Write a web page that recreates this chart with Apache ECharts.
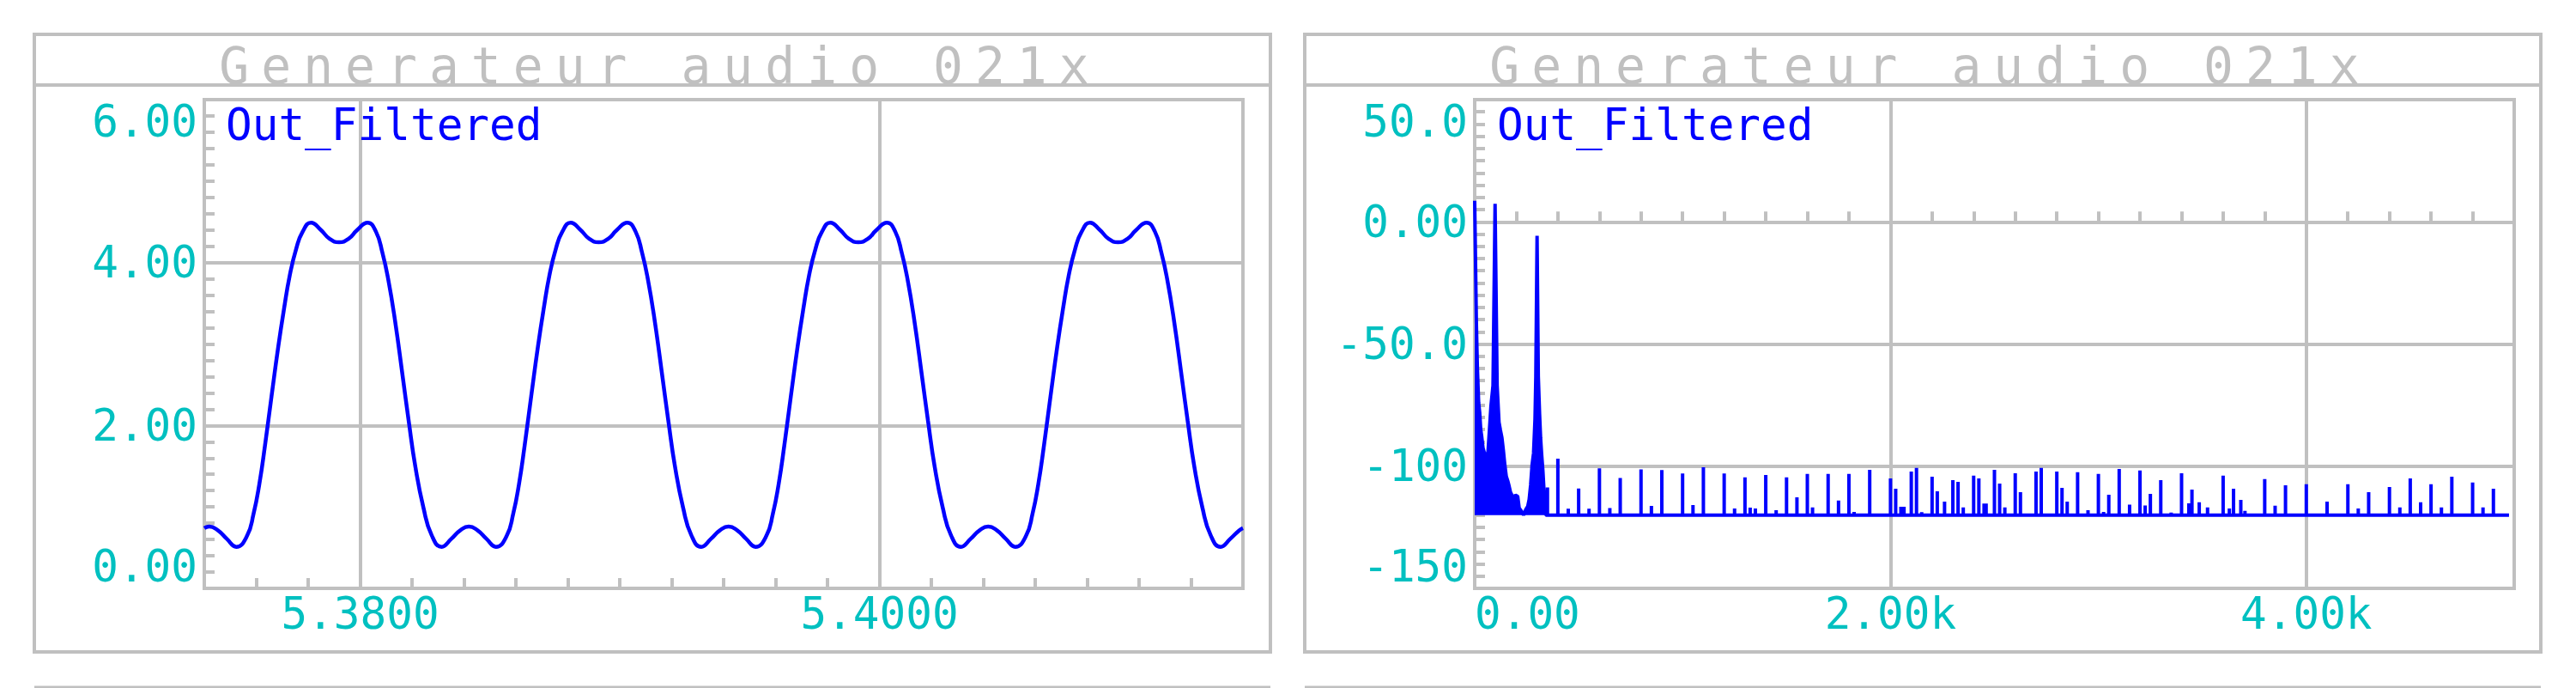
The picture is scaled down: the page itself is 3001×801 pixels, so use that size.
<!DOCTYPE html>
<html>
<head>
<meta charset="utf-8">
<title>Generateur audio 021x</title>
<script src="https://cdn.jsdelivr.net/npm/echarts@6/dist/echarts.min.js"></script>
<style>
  html, body { margin: 0; padding: 0; background: #fff; }
  #chart { width: 3001px; height: 801px; }
  /* titre PSpice : police large, on l'imite avec de l'espacement */
  #chart text[style*="58px"] { letter-spacing: 14px; }
</style>
</head>
<body>
<div id="chart"></div>
<script>
// Trace temporelle Out_Filtered (s, V), une ligne par periode
const timeS = [
  5.37400, 5.37419, 5.37453, 5.37486,
  5.37523, 5.37564, 5.37590, 5.37612, 5.37634, 5.37659, 5.37685, 5.37707, 5.37729, 5.37754, 5.37779, 5.37811,
  5.37849, 5.37883, 5.37919, 5.37955, 5.37989, 5.38029,
  5.38061, 5.38086, 5.38108, 5.38134, 5.38165, 5.38187, 5.38213, 5.38244, 5.38276, 5.38314,
  5.38352, 5.38385, 5.38419, 5.38453, 5.38486,
  5.38523, 5.38564, 5.38590, 5.38612, 5.38634, 5.38659, 5.38685, 5.38707, 5.38729, 5.38754, 5.38779, 5.38811,
  5.38849, 5.38883, 5.38919, 5.38955, 5.38989, 5.39029,
  5.39061, 5.39086, 5.39108, 5.39134, 5.39165, 5.39187, 5.39213, 5.39244, 5.39276, 5.39314,
  5.39352, 5.39385, 5.39419, 5.39453, 5.39486,
  5.39523, 5.39564, 5.39590, 5.39612, 5.39634, 5.39659, 5.39685, 5.39707, 5.39729, 5.39754, 5.39779, 5.39811,
  5.39849, 5.39883, 5.39919, 5.39955, 5.39989, 5.40029,
  5.40061, 5.40086, 5.40108, 5.40134, 5.40165, 5.40187, 5.40213, 5.40244, 5.40276, 5.40314,
  5.40352, 5.40385, 5.40419, 5.40453, 5.40486,
  5.40523, 5.40564, 5.40590, 5.40612, 5.40634, 5.40659, 5.40685, 5.40707, 5.40729, 5.40754, 5.40779, 5.40811,
  5.40849, 5.40883, 5.40919, 5.40955, 5.40989, 5.41029,
  5.41061, 5.41086, 5.41108, 5.41134, 5.41165, 5.41187, 5.41213, 5.41244, 5.41276, 5.41314,
  5.41352, 5.41385, 5.41400
];
const outV = [
  0.74, 0.76, 0.71, 0.61,
  0.51, 0.64, 0.92, 1.28, 1.76, 2.36, 2.97, 3.43, 3.84, 4.17, 4.38, 4.49,
  4.40, 4.29, 4.25, 4.29, 4.40, 4.49,
  4.38, 4.12, 3.80, 3.30, 2.58, 2.06, 1.49, 0.99, 0.65, 0.51,
  0.61, 0.71, 0.76, 0.71, 0.61,
  0.51, 0.64, 0.92, 1.28, 1.76, 2.36, 2.97, 3.43, 3.84, 4.17, 4.38, 4.49,
  4.40, 4.29, 4.25, 4.29, 4.40, 4.49,
  4.38, 4.12, 3.80, 3.30, 2.58, 2.06, 1.49, 0.99, 0.65, 0.51,
  0.61, 0.71, 0.76, 0.71, 0.61,
  0.51, 0.64, 0.92, 1.28, 1.76, 2.36, 2.97, 3.43, 3.84, 4.17, 4.38, 4.49,
  4.40, 4.29, 4.25, 4.29, 4.40, 4.49,
  4.38, 4.12, 3.80, 3.30, 2.58, 2.06, 1.49, 0.99, 0.65, 0.51,
  0.61, 0.71, 0.76, 0.71, 0.61,
  0.51, 0.64, 0.92, 1.28, 1.76, 2.36, 2.97, 3.43, 3.84, 4.17, 4.38, 4.49,
  4.40, 4.29, 4.25, 4.29, 4.40, 4.49,
  4.38, 4.12, 3.80, 3.30, 2.58, 2.06, 1.49, 0.99, 0.65, 0.51,
  0.61, 0.71, 0.74
];

// FFT : enveloppe basse frequence (Hz, dB)
const lowHz = [0, 8, 13, 19, 24, 29, 34, 40, 48, 56, 64, 71, 78, 88, 98, 108,
  117, 124, 131, 138, 145, 152, 159, 166, 172, 179, 186, 196, 207, 214, 224, 235,
  246, 255, 262, 269, 276, 283, 290, 294, 300, 306, 312, 317, 322, 328, 335, 342];
const lowDb = [8.6, -41, -60, -74, -78, -85, -88, -92.5, -95, -97, -94, -85, -75.5, -67, 7.4, -67,
  -82, -85.4, -88.4, -93.6, -99.5, -104.2, -106, -108.3, -110.6, -111.8, -113, -111.8, -112.4, -117.1, -118.3, -120,
  -117.7, -116.5, -113.6, -107.7, -99.5, -94.8, -80.8, -63.2, -5.7, -63.2, -78.4, -88.4, -95, -101.8, -112.4, -120];

// FFT : raies au-dessus du plancher (Hz, dB)
const spikeHz = [350, 400, 450, 500, 550, 600, 650, 700, 800, 850, 900, 1000, 1050, 1100,
  1200, 1250, 1300, 1325, 1350, 1400, 1450, 1500, 1550, 1600, 1625, 1700, 1750, 1800, 1825, 1900,
  2000, 2025, 2050, 2065, 2100, 2125, 2150, 2200, 2225, 2260, 2300, 2325, 2350, 2400, 2425, 2450, 2460,
  2500, 2525, 2550, 2600, 2625, 2700, 2725, 2800, 2825, 2850, 2900, 2950, 3000, 3025, 3050,
  3100, 3150, 3200, 3225, 3250, 3300, 3350, 3400, 3435, 3450, 3485, 3525, 3600, 3630, 3650, 3685, 3705,
  3800, 3850, 3900, 4000, 4100, 4200, 4250, 4300, 4400, 4450, 4500, 4550, 4600, 4650, 4700, 4800, 4850, 4900];
const spikeDb = [-108.7, -96.9, -117.4, -109.1, -117.4, -100.9, -117.1, -104.8, -101.3, -116.3, -101.6, -103, -115.9, -100.4,
  -103, -117.3, -104.6, -117, -117.3, -103.6, -118, -104.6, -112.7, -103.2, -116.9, -103.2, -114.1, -103.2, -118.7, -101.5,
  -105, -109.2, -116.6, -116.6, -102.2, -100.7, -118.8, -104.3, -110.3, -114.5, -105.7, -106.4, -116.9, -103.9, -105, -115.3, -115.3,
  -101.5, -107.1, -116.9, -102.9, -110.6, -102.2, -100.7, -102.2, -108.9, -114.5, -102.5, -118, -103.2, -118.7, -111.7,
  -101.1, -115.7, -101.8, -116.1, -111.3, -105.7, -119, -102.9, -115.2, -109.6, -114.8, -116.9, -103.9, -117.3, -109.2, -113.8, -118.3,
  -105.3, -116.2, -107.8, -107.4, -114.5, -107.4, -117.3, -110.6, -108.5, -116.9, -105, -114.8, -107.4, -116.9, -104.3, -106.7, -116.9, -109.2];
const floorDb = -120;
const floorEndHz = 4975;

// graduations
const timeXTicks = [5.38, 5.40];
const timeXLabels = ['5.3800', '5.4000'];
const timeYTicks = [0, 2, 4, 6];
const timeYLabels = ['0.00', '2.00', '4.00', '6.00'];
const specXTicks = [0, 2000, 4000];
const specXLabels = ['0.00', '2.00k', '4.00k'];
const specYTicks = [-150, -100, -50, 0, 50];
const specYLabels = ['-150', '-100', '-50.0', '0.00', '50.0'];

const GREY = '#C0C0C0';
const CYAN = '#00C0C0';
const BLUE = '#0000FF';
const FONT = 'DejaVu Sans Mono';

function labelFor(ticks, labels) {
  return function (v) {
    const i = ticks.findIndex(t => Math.abs(t - v) < 1e-6);
    return i < 0 ? '' : labels[i];
  };
}

const timeData = timeS.map((t, i) => [t, outV[i]]);
const specData = lowHz.map((f, i) => [f, lowDb[i]]);
spikeHz.forEach((f, i) => {
  specData.push([f, floorDb], [f, spikeDb[i]], [f, floorDb]);
});
specData.push([floorEndHz, floorDb]);

const tick = { show: true, inside: true, length: 12, lineStyle: { color: GREY, width: 4 } };
const minor = { show: true, splitNumber: 10, length: 12, lineStyle: { color: GREY, width: 4 } };
const split = { show: true, lineStyle: { color: GREY, width: 4 } };
const lbl = { color: CYAN, fontFamily: FONT, fontSize: 51 };

function panel(x) {
  return [
    { type: 'rect', shape: { x: x, y: 40, width: 1440, height: 719 },
      style: { fill: 'none', stroke: GREY, lineWidth: 4 }, silent: true },
    { type: 'line', shape: { x1: x, y1: 99, x2: x + 1440, y2: 99 },
      style: { stroke: GREY, lineWidth: 4 }, silent: true },
    { type: 'line', shape: { x1: x, y1: 800.5, x2: x + 1440, y2: 800.5 },
      style: { stroke: GREY, lineWidth: 4 }, silent: true }
  ];
}

const chart = echarts.init(document.getElementById('chart'), null, { renderer: 'svg' });
chart.setOption({
  animation: false,
  backgroundColor: '#fff',
  title: [
    { text: 'Generateur audio 021x', left: 769, top: 48, textAlign: 'center', padding: 0,
      textStyle: { color: GREY, fontFamily: FONT, fontSize: 58, fontWeight: 'normal' } },
    { text: 'Generateur audio 021x', left: 2249, top: 48, textAlign: 'center', padding: 0,
      textStyle: { color: GREY, fontFamily: FONT, fontSize: 58, fontWeight: 'normal' } }
  ],
  legend: [
    { data: ['Out_Filtered'], left: 258, top: 120, padding: 0, icon: 'none', itemWidth: 0,
      selectedMode: false, textStyle: { color: BLUE, fontFamily: FONT, fontSize: 51 } },
    { data: ['Out_Filtered'], left: 1739, top: 120, padding: 0, icon: 'none', itemWidth: 0,
      selectedMode: false, textStyle: { color: BLUE, fontFamily: FONT, fontSize: 51 } }
  ],
  graphic: panel(40).concat(panel(1520)),
  grid: [
    { left: 238, top: 116, width: 1210, height: 569, show: true, borderColor: GREY, borderWidth: 4,
      containLabel: false, outerBoundsMode: 'none' },
    { left: 1718, top: 116, width: 1211, height: 569, show: true, borderColor: GREY, borderWidth: 4,
      containLabel: false, outerBoundsMode: 'none' }
  ],
  xAxis: [
    { type: 'value', gridIndex: 0, min: 5.374, max: 5.414, splitNumber: 2,
      axisLine: { show: false }, axisTick: tick, minorTick: minor, splitLine: split,
      axisLabel: Object.assign({}, lbl, { margin: 4, showMinLabel: false, showMaxLabel: false,
        formatter: labelFor(timeXTicks, timeXLabels) }) },
    { type: 'value', gridIndex: 1, min: 0, max: 5000, interval: 2000,
      axisLine: { show: false }, axisTick: tick, minorTick: minor, splitLine: split,
      axisLabel: Object.assign({}, lbl, { margin: 4, showMaxLabel: false, alignMinLabel: 'left',
        formatter: labelFor(specXTicks, specXLabels) }) }
  ],
  yAxis: [
    { type: 'value', gridIndex: 0, min: 0, max: 6, interval: 2,
      axisLine: { show: false }, axisTick: tick, minorTick: minor, splitLine: split,
      axisLabel: Object.assign({}, lbl, { margin: 8, verticalAlignMinLabel: 'bottom', verticalAlignMaxLabel: 'top',
        formatter: labelFor(timeYTicks, timeYLabels) }) },
    { type: 'value', gridIndex: 1, min: -150, max: 50, interval: 50,
      axisLine: { show: false }, axisTick: tick, minorTick: minor, splitLine: split,
      axisLabel: Object.assign({}, lbl, { margin: 8, verticalAlignMinLabel: 'bottom', verticalAlignMaxLabel: 'top',
        formatter: labelFor(specYTicks, specYLabels) }) }
  ],
  series: [
    { name: 'Out_Filtered', type: 'line', xAxisIndex: 0, yAxisIndex: 0, data: timeData,
      showSymbol: false, smooth: true,
      lineStyle: { color: BLUE, width: 4.5 }, itemStyle: { color: BLUE } },
    { name: 'Out_Filtered', type: 'line', xAxisIndex: 1, yAxisIndex: 1, data: specData,
      showSymbol: false, lineStyle: { color: BLUE, width: 4 }, itemStyle: { color: BLUE },
      areaStyle: { color: BLUE, opacity: 1, origin: floorDb } }
  ]
});
</script>
</body>
</html>
